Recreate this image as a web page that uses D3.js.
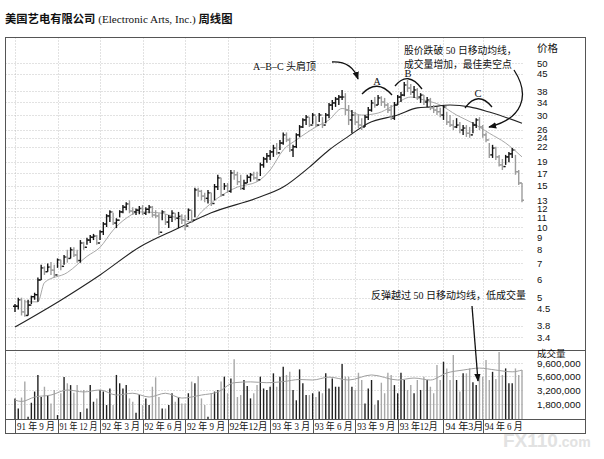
<!DOCTYPE html>
<html><head><meta charset="utf-8">
<script src="https://cdn.jsdelivr.net/npm/d3@7"></script>
<style>body{margin:0;background:#fff}</style>
</head><body><svg id="c" width="604" height="459"></svg>
<script>
// ---------- data ----------
const priceTicks=[50,45,38,34,30,26,24,22,19,17,15,13,12,11,10,9,8,7,6,5,4.5,3.8,3.4];
const volTicks=[9.6,5.6,3.2,1.8]; // millions
const quarterWeeks=[0,13,26,39,52,65,78,91,104,117,131,143];
const quarterLabels=["91 年 9 月","91 年 12 月","92 年 3 月","92 年 6 月","92 年 9 月","92年12月","93 年 3 月","93 年 6 月","93 年 9 月","93 年12月","94 年3月","94 年 6 月"];

const high=[4.7,5.0,5.0,4.9,4.9,5.1,5.25,6.1,6.9,6.8, 7.0,7.1,6.9,7.35,7.25,7.6,8.0,8.2,8.2,8.0,
8.8,8.65,9.0,9.25,9.35,9.25,9.7,10.5,11.35,11.8, 11.5,10.9,11.8,12.4,12.75,13.0,12.15,12.0,12.3,12.4,
12.15,12.4,12.3,11.8,11.45,11.8,11.35,11.25,11.8,11.45, 11.6,11.35,11.25,12.0,11.8,14.7,14.7,14.4,14.0,14.4,
14.0,15.25,16.7,16.2,15.4,15.4,17.5,17.5,17.2,16.7, 15.9,16.7,17.0,17.2,17.2,18.8,19.9,20.7,21.3,22.4,
22.8,23.5,25.3,25.3,24.0,22.4,25.1,27.2,29.1,30.0, 29.4,30.6,29.7,30.6,29.4,30.6,33.8,34.8,35.8,36.5,
38.4,37.2,33.1,31.5,31.0,30.0,29.1,30.0,32.5,34.8, 35.8,36.5,36.1,35.5,33.8,33.1,34.1,36.5,37.6,41.5,
42.3,40.7,39.9,39.1,37.2,36.5,35.8,35.5,33.1,32.5, 32.2,33.1,31.0,30.0,28.6,29.1,28.0,27.2,27.2,26.7,
28.0,29.1,29.4,27.2,25.3,22.8,22.4,22.0,20.3,19.5, 20.3,20.9,21.7,20.3,17.5,15.4];
const low=[4.35,4.45,4.2,4.15,4.2,4.7,4.9,4.8,5.95,6.25, 6.45,6.25,6.1,6.7,6.55,6.9,7.05,7.35,7.45,7.05,
7.05,8.0,8.4,8.55,8.8,8.4,8.8,9.25,10.0,10.5, 10.2,9.9,11.0,11.45,11.8,11.45,11.25,11.25,11.35,11.25,
11.25,11.45,11.0,10.9,9.25,10.7,10.2,9.9,10.5,10.7, 9.9,10.3,9.7,10.7,10.4,11.0,13.45,13.0,12.75,12.6,
12.3,13.0,14.4,13.45,14.4,14.0,14.0,15.9,15.1,14.4, 14.4,15.4,15.6,15.9,15.6,16.5,17.9,18.8,19.3,19.9,
20.3,21.3,22.4,23.0,20.9,19.9,21.7,24.2,26.4,27.2, 26.7,27.5,26.7,28.0,26.4,27.7,29.1,31.5,32.5,33.1,
34.8,30.0,27.2,25.1,27.2,26.4,25.9,26.7,28.6,31.0, 32.2,33.1,32.8,32.2,30.6,28.6,28.6,33.1,34.1,36.1,
37.6,36.5,35.5,34.8,33.8,33.1,32.5,31.5,30.6,30.0, 29.4,28.6,27.2,26.7,25.9,26.4,25.1,24.7,24.2,24.0,
25.1,26.4,25.9,24.0,23.0,19.7,19.7,19.3,18.1,17.5, 18.4,18.9,19.7,16.7,15.1,12.75];
const close=[4.6,4.9,4.35,4.2,4.65,5.05,5.15,5.95,6.7,6.45, 6.75,6.55,6.25,7.25,6.8,7.45,7.35,8.0,7.6,7.2,
8.55,8.2,8.8,9.05,9.15,8.55,9.55,10.3,11.15,11.6, 10.4,10.7,11.6,12.15,12.55,11.7,11.6,11.8,12.0,11.45,
11.9,12.15,11.25,11.15,9.5,11.6,10.5,11.0,11.45,10.9, 11.1,10.7,10.1,11.8,10.7,14.4,14.2,13.55,13.25,14.0,
12.6,14.85,16.2,13.7,14.95,14.2,17.0,16.7,15.6,14.6, 15.4,16.3,16.7,16.2,15.9,18.4,19.5,20.1,20.9,21.7,
20.7,22.8,24.7,23.5,21.3,22.0,24.7,26.7,28.6,29.4, 27.2,30.0,27.2,30.0,27.2,30.0,33.1,33.8,35.1,35.8,
35.8,31.5,28.6,30.0,28.0,27.2,26.7,29.4,31.5,33.8, 33.1,35.5,34.1,33.1,31.5,29.1,33.1,35.8,36.5,40.3,
39.1,37.6,38.4,35.8,36.5,34.1,34.8,32.2,31.5,31.0, 30.0,32.5,28.0,27.2,26.7,27.2,25.9,26.4,25.1,24.7,
27.2,28.6,26.7,24.7,23.5,20.3,21.7,19.9,18.4,18.1, 19.9,20.5,21.3,17.2,15.4,13.0];
const volume=[2.27,1.5,2.35,4.5,1.07,1.9,3.0,5.9,2.4,3.65, 2.6,1.85,3.2,1.15,2.8,5.4,4.2,3.9,2.85,3.9,
1.3,3.2,1.5,3.9,1.98,2.27,3.2,3.0,1.73,3.4, 1.73,5.9,4.2,3.4,3.9,2.27,1.98,1.27,2.6,1.73,
2.27,1.73,3.65,5.35,2.4,1.5,1.5,1.73,2.8,1.98, 2.4,1.85,1.85,2.8,4.5,4.2,5.6,2.27,1.73,1.07,
2.8,3.0,3.2,4.5,5.5,2.8,5.1,11.2,2.4,2.6, 4.8,3.75,2.27,2.8,3.9,5.5,3.4,3.2,3.65,6.3,
3.65,5.5, 8.25,5.9,6.7,3.2,2.1,7.4,4.2,2.6, 2.6,2.8,2.4,3.0,2.8,6.3,3.4,5.1,3.65,3.65,
9.2,5.5,5.5,3.65,3.2,6.45,4.8,1.85,3.4,4.8, 1.73,2.1,4.3,2.8,6.45,5.9,3.9,2.8,6.45,4.8,
3.2,3.9,2.8,4.8,3.2,5.5,4.8,3.65,2.8,8.85, 4.8,10.1,7.7,4.8,13.3,4.8,3.0,6.3,6.3,7.7,
4.4,3.9,5.5,5.5,10.8,4.8,6.7,5.0,15,5.9, 7.7,4.2,4.2,7.7,5.9,7.2];

const maSlowWeeks=[0,14,26,38,50,60,74,82,90,96,102,108,117,123,127,133,139,145,155];
const maSlow=[3.75,4.88,6.25,8.2,9.9,11.5,13.3,14.8,18.0,21.3,24.4,27.7,30.0,32.2,32.5,33.1,32.5,30.9,27.7];
const maFastWeeks=[3,7,9,16,22,26,30,34,38,44,50,54,57,62,68,74,78,82,86,92,96,100,106,111,115,121,125,130,135,140,145,150,155];
const maFast=[4.8,4.8,5.8,6.4,7.5,8.2,9.7,10.9,11.6,11.5,10.9,10.5,11.6,13.3,14.8,15.6,17.5,21.3,23.5,26.7,28.6,32.0,30.0,30.6,32.5,35.8,34.8,33.1,30.0,27.7,25.1,22.8,19.9];
const volMaWeeks=[0,2,6,11,16,21,26,31,36,41,46,51,57,62,67,72,77,82,87,91,96,102,109,117,122,127,132,137,142,147,152,155];
const volMa=[2.12,2.0,2.4,2.6,3.2,2.95,3.2,2.6,2.8,2.4,2.8,2.3,2.6,2.95,4.3,4.45,4.3,4.5,4.9,4.8,5.4,4.8,5.9,4.8,5.2,4.8,6.4,7.2,7.8,7.2,6.7,7.2];

// ---------- layout ----------
const svg=d3.select("#c");
svg.append("rect").attr("width",604).attr("height",459).attr("fill","#fff");
const L=5.5,R=585.5,T=37.5,SEP=350.5,VB=419.5,B=433.5,PR=524;
const x=d3.scaleLinear().domain([0,155]).range([15,522]);
const y=d3.scaleLog().domain([3.4,50]).range([337,63]);
const yv=d3.scaleLog().domain([0.98,9.6]).range([419,363]);
const CJK='"Noto Sans CJK SC","Noto Sans CJK JP",sans-serif';
const SER='"Liberation Serif","Noto Sans CJK SC",serif';
const NUM='"Liberation Sans Narrow","Liberation Sans",Arial,sans-serif';

// title
const tt=svg.append("text").attr("x",5).attr("y",23).attr("fill","#111");
tt.append("tspan").text("美国艺电有限公司").attr("font-family",CJK).attr("font-weight","bold").attr("font-size",11.3);
tt.append("tspan").text(" (Electronic Arts, Inc.) ").attr("font-family",SER).attr("font-size",11.2);
tt.append("tspan").text("周线图").attr("font-family",CJK).attr("font-weight","bold").attr("font-size",11.3);

// grid
const g=svg.append("g").attr("stroke","#b5b5b5").attr("stroke-width",0.8).attr("stroke-dasharray","1,2");
priceTicks.forEach(p=>g.append("line").attr("x1",L).attr("x2",PR).attr("y1",Math.round(y(p))+0.5).attr("y2",Math.round(y(p))+0.5));
volTicks.forEach(v=>g.append("line").attr("x1",L).attr("x2",PR).attr("y1",Math.round(yv(v))+0.5).attr("y2",Math.round(yv(v))+0.5));
quarterWeeks.forEach(w=>g.append("line").attr("x1",Math.round(x(w))+0.5).attr("x2",Math.round(x(w))+0.5).attr("y1",T).attr("y2",VB));

// frame
const f=svg.append("g").attr("stroke","#555").attr("stroke-width",1).attr("fill","none");
f.append("rect").attr("x",L).attr("y",T).attr("width",R-L).attr("height",B-T);
f.append("line").attr("x1",L).attr("x2",R).attr("y1",SEP).attr("y2",SEP);
f.append("line").attr("x1",L).attr("x2",R).attr("y1",VB).attr("y2",VB);
quarterWeeks.forEach(w=>f.append("line").attr("x1",Math.round(x(w))+0.5).attr("x2",Math.round(x(w))+0.5).attr("y1",VB).attr("y2",B));

// quarter labels
svg.append("g").selectAll("text").data(quarterWeeks).join("text")
 .attr("x",w=>x(w)+2).attr("y",430).attr("font-size",10).attr("font-family",SER).attr("fill","#111")
 .attr("textLength",38).attr("lengthAdjust","spacingAndGlyphs")
 .text((w,i)=>quarterLabels[i]);

// price axis labels
const pa=svg.append("g").attr("transform","translate(535,0)")
 .call(d3.axisRight(y).tickValues(priceTicks).tickSize(0).tickPadding(2).tickFormat(d=>String(d)));
pa.select(".domain").remove();
pa.selectAll("text").attr("font-family",NUM).attr("font-size",9.5).attr("fill","#111");
svg.append("text").attr("x",537).attr("y",52).text("价格").attr("font-family",CJK).attr("font-size",10.5).attr("fill","#111");

// volume axis labels
const va=svg.append("g").attr("transform","translate(535,0)")
 .call(d3.axisRight(yv).tickValues(volTicks).tickSize(0).tickPadding(2).tickFormat(d=>d3.format(",")(Math.round(d*1e6))));
va.select(".domain").remove();
va.selectAll("text").attr("font-family",NUM).attr("font-size",9.8).attr("fill","#111");
svg.append("text").attr("x",537).attr("y",357).text("成交量").attr("font-family",CJK).attr("font-size",9.5).attr("fill","#111");

// MA lines (price)
const line=d3.line().curve(d3.curveMonotoneX);
svg.append("path").attr("d",line(maFastWeeks.map((w,i)=>[x(w),y(maFast[i])]))).attr("fill","none").attr("stroke","#a8a8a8").attr("stroke-width",1);
svg.append("path").attr("d",line(maSlowWeeks.map((w,i)=>[x(w),y(maSlow[i])]))).attr("fill","none").attr("stroke","#222").attr("stroke-width",1.1);

// price bars
const up=close.map((c,i)=>i===0?true:c>=close[i-1]);
const bars=svg.append("g");
close.forEach((c,i)=>{
  const col=up[i]?"#151515":"#9c9c9c";
  const xx=x(i);
  const gb=bars.append("g").attr("stroke",col).attr("stroke-width",1.4);
  gb.append("line").attr("x1",xx).attr("x2",xx).attr("y1",y(high[i])).attr("y2",y(low[i]));
  gb.append("line").attr("x1",xx).attr("x2",xx+2).attr("y1",y(c)).attr("y2",y(c));
  const o=i===0?c:close[i-1];
  gb.append("line").attr("x1",xx-2).attr("x2",xx).attr("y1",y(o)).attr("y2",y(o));
});

// volume bars
svg.append("g").selectAll("line").data(volume).join("line")
 .attr("x1",(v,i)=>x(i)).attr("x2",(v,i)=>x(i)).attr("y1",VB-0.5).attr("y2",v=>yv(v))
 .attr("stroke",(v,i)=>up[i]?"#202020":"#a8a8a8").attr("stroke-width",1.4);
svg.append("path").attr("d",line(volMaWeeks.map((w,i)=>[x(w),yv(volMa[i])]))).attr("fill","none").attr("stroke","#a0a0a0").attr("stroke-width",1);

// annotations
const defs=svg.append("defs");
defs.append("marker").attr("id","ah").attr("viewBox","0 0 10 10").attr("refX",9).attr("refY",5)
 .attr("markerWidth",8).attr("markerHeight",8).attr("markerUnits","userSpaceOnUse").attr("orient","auto")
 .append("path").attr("d","M0,1 L10,5 L0,9 Z").attr("fill","#111");
const an=svg.append("g").attr("fill","none").attr("stroke","#111").attr("stroke-width",1.3);
an.append("path").attr("d","M332,62 Q352,61 358,79").attr("marker-end","url(#ah)");
an.append("path").attr("d","M514,70 C531,96 522,119 489,127").attr("marker-end","url(#ah)");
an.append("path").attr("d","M472,306 L478,381").attr("marker-end","url(#ah)");
an.append("path").attr("d","M362,94 Q377,78 392,95");
an.append("path").attr("d","M395,86 Q408,70 422,89");
an.append("path").attr("d","M465,108 Q478,90 492,107");
const lab=(t,xx,yy,fs,anchor)=>svg.append("text").attr("x",xx).attr("y",yy).text(t).attr("font-size",fs)
 .attr("font-family",SER).attr("fill","#111").attr("text-anchor",anchor||"start");
lab("A",377,85,10.5,"middle");
lab("B",408,77,10.5,"middle");
lab("C",478,97,10.5,"middle");
lab("A–B–C 头肩顶",253,70,10);
lab("股价跌破 50 日移动均线，",404,54,9.8);
lab("成交量增加，最佳卖空点",404,68,9.8);
lab("反弹越过 50 日移动均线，低成交量",371,299,10);

// watermark
const wm=svg.append("text").attr("x",503).attr("y",447).attr("fill","#e2e2e2").attr("font-family",'"Liberation Sans",Arial,sans-serif').attr("font-weight","bold");
wm.append("tspan").text("FX110").attr("font-size",19);
wm.append("tspan").text(".com").attr("font-size",14);
</script></body></html>
